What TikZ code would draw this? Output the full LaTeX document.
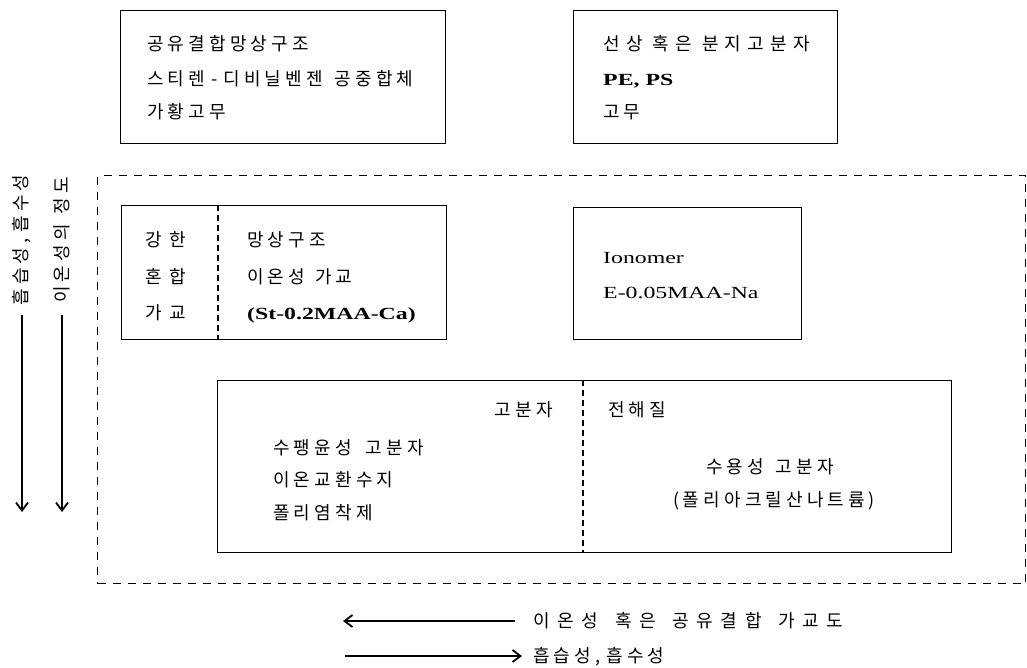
\documentclass[tikz,border=0pt]{standalone}
\usepackage{fontspec}
\setmainfont[FakeStretch=1.4]{Liberation Serif}
\newfontfamily\kr[LetterSpace=23]{Noto Sans CJK KR}
\newcommand\ksp{\hspace{10pt}}
\newcommand\kls[1]{\addfontfeature{LetterSpace=#1}}
\usetikzlibrary{arrows.meta}
\tikzset{
  box/.style={draw, line width=1.4pt, inner sep=0pt, anchor=north west},
  outerdash/.style={draw, line width=1.2pt, dash pattern=on 8pt off 7pt},
  divdash/.style={draw, line width=1.2pt, dash pattern=on 6pt off 4pt},
  kt/.style={inner sep=0pt, font=\kr\fontsize{18}{21}\selectfont, anchor=base west},
  lt/.style={inner sep=0pt, font=\fontsize{17}{20}\selectfont, anchor=base west},
  arr/.style={line width=1.4pt, -{Straight Barb[length=8pt,width=12pt,line width=1.8pt]}}
}
\begin{document}
\begin{tikzpicture}[x=1pt,y=-1pt]
\useasboundingbox (0,0) rectangle (1027,668);
% top boxes
\node[box, minimum width=325pt, minimum height=133pt] (b1) at (120,10) {};
\node[box, minimum width=264pt, minimum height=133pt] (b2) at (573,10) {};
% outer dashed region
\node[outerdash, inner sep=0pt, anchor=north west, minimum width=928pt, minimum height=408pt] (outer) at (97,175) {};
% middle boxes
\node[box, minimum width=325pt, minimum height=134pt] (b3) at (121,205) {};
\node[box, minimum width=228pt, minimum height=132pt] (b4) at (573,207) {};
\node[box, minimum width=734pt, minimum height=172pt] (b5) at (217,380) {};
\coordinate (d3t) at (218,205); \coordinate (d3b) at (218,339);
\draw[divdash] (d3t) -- (d3b);
\coordinate (d5t) at (583,380); \coordinate (d5b) at (583,552);
\draw[divdash] (d5t) -- (d5b);
% box 1 text
\node[kt] (t11) at (147,51) {공유결합망상구조};
\node[kt] (t12) at (147,86) {스티렌\hspace{6pt}-\hspace{6pt}디비닐벤젠\hspace{12pt}공중합체};
\node[kt] (t13) at (147,119) {가황고무};
% box 2 text
\node[kt] (t21) at (603,51) {\kls{35}선상\ksp 혹은\ksp 분지고분자};
\node[lt] (t22) at (603,86) {\bfseries PE, PS};
\node[kt] (t23) at (603,119) {고무};
% box 3 text
\node[kt, anchor=base] (t31) at (166,247) {\kls{40}강한};
\node[kt, anchor=base] (t32) at (166,283) {\kls{40}혼합};
\node[kt, anchor=base] (t33) at (166,319) {\kls{40}가교};
\node[kt] (t34) at (247,247) {망상구조};
\node[kt] (t35) at (247,283) {이온성\ksp 가교};
\node[lt] (t36) at (247,319) {\bfseries (St-0.2MAA-Ca)};
% box 4 text
\node[lt] (t41) at (603,263) {Ionomer};
\node[lt] (t42) at (603,298) {E-0.05MAA-Na};
% box 5 text
\node[kt, anchor=base east] (t51) at (553,416) {고분자};
\node[kt] (t52) at (608,416) {전해질};
\node[kt] (t53) at (273,454) {수팽윤성\hspace{14pt}고분자};
\node[kt] (t54) at (273,486) {이온교환수지};
\node[kt] (t55) at (273,519) {폴리염착제};
\node[kt, anchor=base] (t56) at (770,473) {수용성\hspace{12pt}고분자};
\node[kt, anchor=base] (t57) at (774,506) {(\hspace{3pt}폴리아크릴산나트륨\hspace{3pt})};
% left vertical labels and arrows
\node[kt, anchor=center, rotate=90] (v1) at (22,240) {흡습성,\hspace{6pt}흡수성};
\node[kt, anchor=center, rotate=90] (v2) at (62,240) {이온성의\ksp 정도};
\coordinate (v1a) at (22,315); \coordinate (v1b) at (22,512);
\coordinate (v2a) at (62,315); \coordinate (v2b) at (62,512);
\draw[arr] (v1a) -- (v1b);
\draw[arr] (v2a) -- (v2b);
% bottom legend
\node[kt] (h1) at (533,627) {\kls{42}이온성\hspace{17pt}혹은\hspace{17pt}공유결합\hspace{17pt}가교도};
\node[kt] (h2) at (533,662) {흡습성,\hspace{6pt}흡수성};
\coordinate (h1a) at (515,621); \coordinate (h1b) at (343,621);
\coordinate (h2a) at (345,656); \coordinate (h2b) at (522,656);
\draw[arr] (h1a) -- (h1b);
\draw[arr] (h2a) -- (h2b);
\end{tikzpicture}
\end{document}
